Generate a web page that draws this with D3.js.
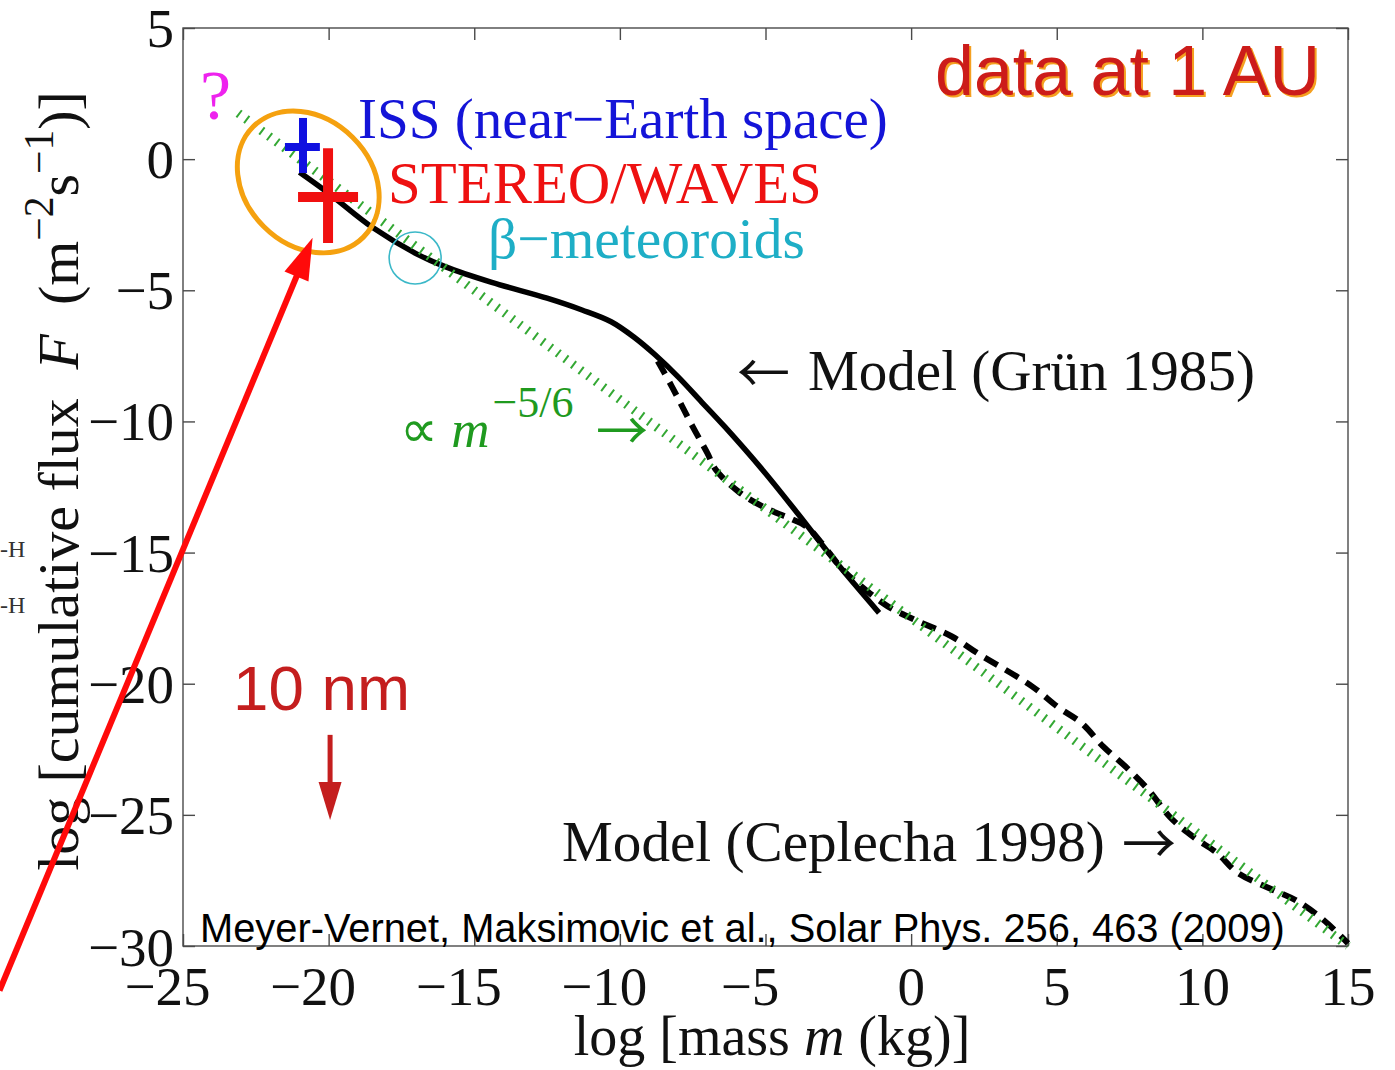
<!DOCTYPE html>
<html><head><meta charset="utf-8">
<script src="https://cdn.jsdelivr.net/npm/d3@7"></script>
<style>body{margin:0;background:#fff} svg{display:block}</style>
</head><body><svg id="c" width="1395" height="1070"></svg>
<script>
// ---------- data ----------
const xTicks = [-25,-20,-15,-10,-5,0,5,10,15];
const yTicks = [5,0,-5,-10,-15,-20,-25,-30];

const gruenLogM = [-21,-20,-18.5,-17,-16,-14.4,-12.5,-11.3,-10.3,-9.5,-8.8,-8.0,-7.2,-6.4,-5.1,-3.9,-2.7,-1.1];
const gruenLogF = [-0.5,-1.3,-2.6,-3.6,-4.1,-4.7,-5.3,-5.75,-6.2,-6.8,-7.45,-8.3,-9.25,-10.2,-11.85,-13.5,-15.2,-17.3];

const ceplechaLogM = [-8.7,-8.2,-7.5,-7.0,-6.7,-5.9,-5.0,-4.05,-3.6,-3.1,-2.35,-1.75,-0.8,0.1,1.4,2.3,4.15,5.05,5.85,6.6,7.4,8.15,8.9,9.7,10.5,11.2,12.3,13.2,14.15,15];
const ceplechaLogF = [-7.7,-8.7,-10.2,-11.2,-11.85,-12.7,-13.3,-13.75,-14.0,-14.6,-15.65,-16.25,-17.05,-17.55,-18.2,-18.85,-20.1,-20.9,-21.5,-22.4,-23.2,-24.05,-25.1,-25.85,-26.45,-27.2,-27.8,-28.25,-29.0,-29.9];

const powerLawLogM = [-23.1, 15];
const powerLawLogF = [1.75, -30];

const issCenter = [-20.88, 0.46];
const issRangeM = [-21.5, -20.3];
const issRangeF = [-0.53, 1.57];

const stereoCenter = [-20.02, -1.44];
const stereoRangeM = [-21.05, -18.99];
const stereoRangeF = [-3.2, 0.42];

const ellipseCenter = [-20.7, -0.87];
const betaCircleCenter = [-17.03, -3.77];

const redArrowFrom = [-31.3, -31.7];
const redArrowTo = [-20.55, -3.0];
const nmArrowFrom = [-19.95, -21.95];
const nmArrowTo = [-19.95, -25.2];

// ---------- setup ----------
const svg = d3.select('#c');
const x = d3.scaleLinear().domain([-25,15]).range([183,1348]);
const y = d3.scaleLinear().domain([-30,5]).range([946,28]);
const serif = '"Liberation Serif","Times New Roman",Times,serif';
const sans = '"Liberation Sans",Arial,Helvetica,sans-serif';
const arrowFont = '"Noto Sans CJK JP","DejaVu Sans",sans-serif';
const frameCol = '#4a4a4a';

function fit(sel, target){
  const fs = +sel.attr('font-size');
  const w = sel.node().getComputedTextLength();
  sel.attr('font-size', fs*target/w);
  return sel;
}

// ---------- frame & ticks ----------
svg.append('rect').attr('x',x(-25)).attr('y',y(5))
  .attr('width',x(15)-x(-25)).attr('height',y(-30)-y(5))
  .attr('fill','none').attr('stroke',frameCol).attr('stroke-width',1.4);

function styleAxis(g){ g.select('.domain').remove(); g.selectAll('line').attr('stroke',frameCol).attr('stroke-width',1.4); }
svg.append('g').attr('transform',`translate(0,${y(-30)})`).call(d3.axisBottom(x).tickValues(xTicks).tickSize(-12).tickFormat('')).call(styleAxis);
svg.append('g').attr('transform',`translate(0,${y(5)})`).call(d3.axisTop(x).tickValues(xTicks).tickSize(-12).tickFormat('')).call(styleAxis);
svg.append('g').attr('transform',`translate(${x(-25)},0)`).call(d3.axisLeft(y).tickValues(yTicks).tickSize(-12).tickFormat('')).call(styleAxis);
svg.append('g').attr('transform',`translate(${x(15)},0)`).call(d3.axisRight(y).tickValues(yTicks).tickSize(-12).tickFormat('')).call(styleAxis);

const fmt = v => (v<0?'\u2212':'') + Math.abs(v);
const tmp = svg.append('text').attr('font-family',serif).attr('font-size',55);
xTicks.forEach(v=>{
  tmp.text(String(Math.abs(v)));
  const dw = tmp.node().getComputedTextLength();
  svg.append('text').attr('x',x(v)+dw/2).attr('y',y(-30)+59)
    .attr('text-anchor','end').attr('font-family',serif).attr('font-size',55).attr('fill','#111').text(fmt(v));
});
tmp.remove();
yTicks.forEach(v=>{
  svg.append('text').attr('x',x(-25)-9).attr('y',y(v)+(v===-30?20:19))
    .attr('text-anchor','end').attr('font-family',serif).attr('font-size',55).attr('fill','#111').text(fmt(v));
});

// axis titles
const xl = svg.append('text').attr('x',772).attr('y',1055).attr('text-anchor','middle')
  .attr('font-family',serif).attr('font-size',56).attr('fill','#111');
xl.append('tspan').text('log [mass ');
xl.append('tspan').attr('font-style','italic').text('m');
xl.append('tspan').text(' (kg)]');

const yl = svg.append('text').attr('transform','translate(78,481) rotate(-90)').attr('text-anchor','middle')
  .attr('font-family',serif).attr('font-size',57).attr('fill','#111');
yl.append('tspan').text('log [cumulative flux\u2002');
yl.append('tspan').attr('font-style','italic').text('F');
yl.append('tspan').text('\u2002(m');
yl.append('tspan').attr('font-size',41).attr('dy',-25).text('\u22122');
yl.append('tspan').attr('dy',25).text('s');
yl.append('tspan').attr('font-size',41).attr('dy',-25).text('\u22121');
yl.append('tspan').attr('dy',25).text(')]');
{
  const w = yl.node().getComputedTextLength();
  const k = 780 / w;
  yl.attr('font-size', 57*k);
  yl.selectAll('tspan').filter(function(){return this.getAttribute('font-size');}).attr('font-size',41*k);
}

// stray marks at far left
[557, 613].forEach(b=>{
  svg.append('text').attr('x',0).attr('y',b).attr('font-family',serif).attr('font-size',24).attr('fill','#333').text('-H');
});

// ---------- curves ----------
const line = d3.line().x(d=>x(d[0])).y(d=>y(d[1])).curve(d3.curveCatmullRom.alpha(0.5));
const gruen = gruenLogM.map((m,i)=>[m,gruenLogF[i]]);
const ceplecha = ceplechaLogM.map((m,i)=>[m,ceplechaLogF[i]]);
const power = powerLawLogM.map((m,i)=>[m,powerLawLogF[i]]);

svg.append('path').attr('d',line(gruen)).attr('fill','none').attr('stroke','#000').attr('stroke-width',5.5).attr('stroke-linecap','butt');
svg.append('path').attr('d',line(ceplecha)).attr('fill','none').attr('stroke','#000').attr('stroke-width',6).attr('stroke-dasharray','15 9');
svg.append('path').attr('d',d3.line().x(d=>x(d[0])).y(d=>y(d[1]))(power)).attr('fill','none')
  .attr('stroke','#34a834').attr('stroke-width',9).attr('stroke-dasharray','2 7.5');

// ---------- data points (crosses) ----------
function cross(center, rm, rf, col, w){
  svg.append('line').attr('x1',x(rm[0])).attr('x2',x(rm[1])).attr('y1',y(center[1])).attr('y2',y(center[1])).attr('stroke',col).attr('stroke-width',w);
  svg.append('line').attr('x1',x(center[0])).attr('x2',x(center[0])).attr('y1',y(rf[0])).attr('y2',y(rf[1])).attr('stroke',col).attr('stroke-width',w);
}
cross(issCenter, issRangeM, issRangeF, '#1010e0', 8);
cross(stereoCenter, stereoRangeM, stereoRangeF, '#f01010', 10);

// orange ellipse & cyan circle
svg.append('ellipse').attr('cx',0).attr('cy',0).attr('rx',78).attr('ry',63)
  .attr('transform',`translate(${x(ellipseCenter[0])},${y(ellipseCenter[1])}) rotate(45)`)
  .attr('fill','none').attr('stroke','#f5a10f').attr('stroke-width',5);
svg.append('circle').attr('cx',x(betaCircleCenter[0])).attr('cy',y(betaCircleCenter[1])).attr('r',26)
  .attr('fill','none').attr('stroke','#3bb8c8').attr('stroke-width',1.6);

// ---------- labels ----------
function label(txt, x0, base, width, col, fam, fs){
  return fit(svg.append('text').attr('x',x0).attr('y',base).attr('font-family',fam).attr('font-size',fs).attr('fill',col).text(txt), width);
}
svg.append('text').attr('x',200).attr('y',119).attr('font-family',serif).attr('font-size',70).attr('fill','#ee22ee').text('?');
label('ISS (near\u2212Earth space)', 358, 138, 530, '#1414d8', serif, 57);
label('STEREO/WAVES', 388, 203, 434, '#ee1111', serif, 57);
label('\u03b2\u2212meteoroids', 488, 258, 317, '#1eaec6', serif, 57);
label('Model (Gr\u00fcn 1985)', 808, 390, 447, '#111', serif, 57);
label('\u2190', 737, 393, 53, '#111', arrowFont, 56);
label('Model (Ceplecha 1998)', 562, 861, 543, '#111', serif, 57);
label('\u2192', 1122, 864, 54, '#111', arrowFont, 56);

const pl = svg.append('text').attr('x',400).attr('y',447).attr('font-family',serif).attr('font-size',53).attr('fill','#1f9a1f');
pl.append('tspan').text('\u221d ');
pl.append('tspan').attr('font-style','italic').text('m');
pl.append('tspan').attr('font-size',44).attr('dy',-30).attr('dx',3).text('\u22125/6');
label('\u2192', 596, 450, 52, '#1f9a1f', arrowFont, 54);

// data at 1 AU with orange shadow
label('data at 1 AU', 937, 97, 385, '#f5a020', sans, 69);
label('data at 1 AU', 935, 95, 385, '#cc1c1a', sans, 69);

label('10 nm', 233, 710, 177, '#c41e1e', sans, 62);
label('Meyer-Vernet, Maksimovic et al., Solar Phys. 256, 463 (2009)', 200, 942, 1085, '#000', sans, 36);

// ---------- arrows ----------
function arrow(from, to, col, w, L, W){
  const x1=x(from[0]), y1=y(from[1]), x2=x(to[0]), y2=y(to[1]);
  const dx=x2-x1, dy=y2-y1, len=Math.hypot(dx,dy), ux=dx/len, uy=dy/len;
  const bx=x2-ux*L, by=y2-uy*L, nx=-uy, ny=ux;
  svg.append('line').attr('x1',x1).attr('y1',y1).attr('x2',bx+ux*2).attr('y2',by+uy*2).attr('stroke',col).attr('stroke-width',w);
  svg.append('path').attr('d',`M${x2},${y2}L${bx+nx*W},${by+ny*W}L${bx-nx*W},${by-ny*W}Z`).attr('fill',col);
}
arrow(redArrowFrom, redArrowTo, '#ff0a0a', 6, 42, 13);
arrow(nmArrowFrom, nmArrowTo, '#c41e1e', 5, 38, 11.5);
</script></body></html>
